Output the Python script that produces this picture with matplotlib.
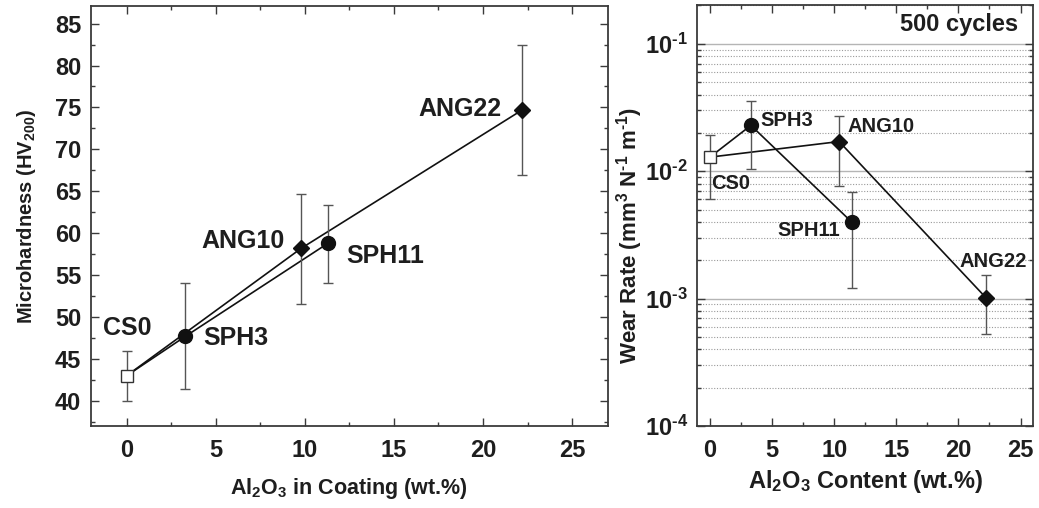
#!/usr/bin/env python3
"""
plot.py
- Microhardness vs Al2O3 content (left) and wear rate vs Al2O3 content (right)
- Saves out.png
"""

import math

import matplotlib
matplotlib.use("Agg")
import matplotlib.pyplot as plt
from matplotlib.ticker import MultipleLocator, LogLocator, FuncFormatter, NullFormatter


# ---------------- DATA ----------------
SAMPLES = ["CS0", "SPH3", "ANG10", "SPH11", "ANG22"]

# left panel: microhardness (HV200)
HARD_X = [0.0, 3.3, 9.8, 11.3, 22.2]
HARD_Y = [43.0, 47.7, 58.2, 58.8, 74.7]
HARD_LO = [40.0, 41.4, 51.6, 54.1, 66.9]
HARD_HI = [46.0, 54.0, 64.7, 63.4, 82.4]

# right panel: wear rate after 500 cycles (mm3 N-1 m-1)
WEAR_X = [0.0, 3.3, 10.4, 11.4, 22.2]
WEAR_Y = [0.0129, 0.0229, 0.0171, 0.0040, 0.00102]
WEAR_LO = [0.0061, 0.0105, 0.0077, 0.00122, 0.00053]
WEAR_HI = [0.0194, 0.0354, 0.0270, 0.0069, 0.00153]

# which points are joined (indices into the lists above)
SERIES = {
    "spherical": [0, 1, 3],
    "angular": [0, 2, 4],
}
MARKERS = ["s", "o", "D", "o", "D"]
# --------------------------------------

TXT = "#1e1e1e"
SPINE = "#3a3a3a"
ERR = "#555555"
HY = "\u2010"  # short hyphen, narrower than the math minus

plt.rcParams["font.family"] = ["Liberation Sans", "DejaVu Sans"]
plt.rcParams["font.weight"] = "bold"
plt.rcParams["axes.labelweight"] = "bold"
plt.rcParams["mathtext.fontset"] = "custom"
plt.rcParams["mathtext.rm"] = "Liberation Sans:bold"
plt.rcParams["mathtext.bf"] = "Liberation Sans:bold"
plt.rcParams["mathtext.it"] = "Liberation Sans:bold"
plt.rcParams["mathtext.default"] = "rm"
plt.rcParams["text.color"] = TXT
plt.rcParams["axes.labelcolor"] = TXT
plt.rcParams["xtick.color"] = SPINE
plt.rcParams["ytick.color"] = SPINE
plt.rcParams["xtick.labelcolor"] = TXT
plt.rcParams["ytick.labelcolor"] = TXT

fig = plt.figure(figsize=(10.39, 5.08), dpi=100)
ax1 = fig.add_axes([0.0876, 0.1614, 0.4973, 0.8268])
ax2 = fig.add_axes([0.6713, 0.1614, 0.3229, 0.8278])


def style_axes(ax):
    for sp in ax.spines.values():
        sp.set_color(SPINE)
        sp.set_linewidth(1.3)
    ax.tick_params(which="both", direction="in", top=True, right=True, width=1.0)
    ax.tick_params(which="major", length=6)
    ax.tick_params(which="minor", length=3)
    ax.tick_params(axis="x", which="major", labelsize=17, pad=9)
    ax.tick_params(axis="y", which="major", labelsize=17, pad=7)


def draw_points(ax, xs, ys, lo, hi):
    # connecting lines first
    for idx in SERIES.values():
        ax.plot([xs[i] for i in idx], [ys[i] for i in idx],
                color="#111111", lw=1.2, zorder=2)
    # error bars + markers
    for i in range(len(xs)):
        ax.errorbar(xs[i], ys[i], yerr=[[ys[i] - lo[i]], [hi[i] - ys[i]]],
                    fmt="none", ecolor=ERR, elinewidth=1.0, capsize=3.5,
                    capthick=1.0, zorder=2)
        m = MARKERS[i]
        if m == "s":
            ax.plot(xs[i], ys[i], marker="s", ms=8.5, mfc="white",
                    mec="#333333", mew=1.0, ls="none", zorder=4)
        elif m == "D":
            ax.plot(xs[i], ys[i], marker="D", ms=8.5, color="#111111",
                    ls="none", zorder=4)
        else:
            ax.plot(xs[i], ys[i], marker="o", ms=10, color="#111111",
                    ls="none", zorder=4)


def log_label(v, _pos):
    return "$10^{" + HY + "%d}$" % abs(round(math.log10(v)))


# ---- left: microhardness ----
style_axes(ax1)
draw_points(ax1, HARD_X, HARD_Y, HARD_LO, HARD_HI)
ax1.set_xlim(-2, 27)
ax1.set_ylim(37, 87.1)
ax1.xaxis.set_major_locator(MultipleLocator(5))
ax1.xaxis.set_minor_locator(MultipleLocator(2.5))
ax1.yaxis.set_major_locator(MultipleLocator(5))
ax1.yaxis.set_minor_locator(MultipleLocator(2.5))
ax1.set_xlabel(r"Al$_2$O$_3$ in Coating (wt.%)", fontsize=15.5)
ax1.set_ylabel(r"Microhardness (HV$_{200}$)", fontsize=14.5)
ax1.xaxis.set_label_coords(0.5, -0.119)
ax1.yaxis.set_label_coords(-0.103, 0.5)

# label offsets in points, (dx, dy, ha)
LEFT_LABELS = [(0.5, 34, "center"), (13, -1, "left"), (-12, 5, "right"),
               (13, -9, "left"), (-15, 1, "right")]
for i, name in enumerate(SAMPLES):
    dx, dy, ha = LEFT_LABELS[i]
    ax1.annotate(name, (HARD_X[i], HARD_Y[i]), xytext=(dx, dy),
                 textcoords="offset points", ha=ha, va="center",
                 fontsize=18, fontweight="bold")

# ---- right: wear rate ----
style_axes(ax2)
ax2.set_yscale("log")
ax2.set_xlim(-1, 26)
ax2.set_ylim(1e-4, 0.2)
ax2.xaxis.set_major_locator(MultipleLocator(5))
ax2.xaxis.set_minor_locator(MultipleLocator(2.5))
ax2.yaxis.set_major_locator(LogLocator(base=10, numticks=10))
ax2.yaxis.set_minor_locator(LogLocator(base=10, subs=range(2, 10), numticks=20))
ax2.yaxis.set_major_formatter(FuncFormatter(log_label))
ax2.yaxis.set_minor_formatter(NullFormatter())
ax2.yaxis.grid(True, which="major", color="#b5b5b5", lw=1.0, ls="-", zorder=0)
ax2.yaxis.grid(True, which="minor", color="#9a9a9a", lw=0.8, ls=(0, (1, 1.5)), zorder=0)
ax2.set_axisbelow(True)
draw_points(ax2, WEAR_X, WEAR_Y, WEAR_LO, WEAR_HI)
ax2.set_xlabel(r"Al$_2$O$_3$ Content (wt.%)", fontsize=17)
ax2.set_ylabel("Wear Rate (mm$^3$ N$^{" + HY + "1}$ m$^{" + HY + "1}$)", fontsize=16)
ax2.xaxis.set_label_coords(0.5, -0.1)
ax2.yaxis.set_label_coords(-0.157, 0.454)

RIGHT_LABELS = [(1, -19, "left"), (6.5, 3.5, "left"), (6, 11, "left"),
                (-8.5, -6.5, "right"), (29.5, 26, "right")]
for i, name in enumerate(SAMPLES):
    dx, dy, ha = RIGHT_LABELS[i]
    ax2.annotate(name, (WEAR_X[i], WEAR_Y[i]), xytext=(dx, dy),
                 textcoords="offset points", ha=ha, va="center",
                 fontsize=14.5, fontweight="bold")

ax2.text(0.955, 0.955, "500 cycles", transform=ax2.transAxes,
         ha="right", va="center", fontsize=17, fontweight="bold")

fig.savefig("out.png", dpi=100)
